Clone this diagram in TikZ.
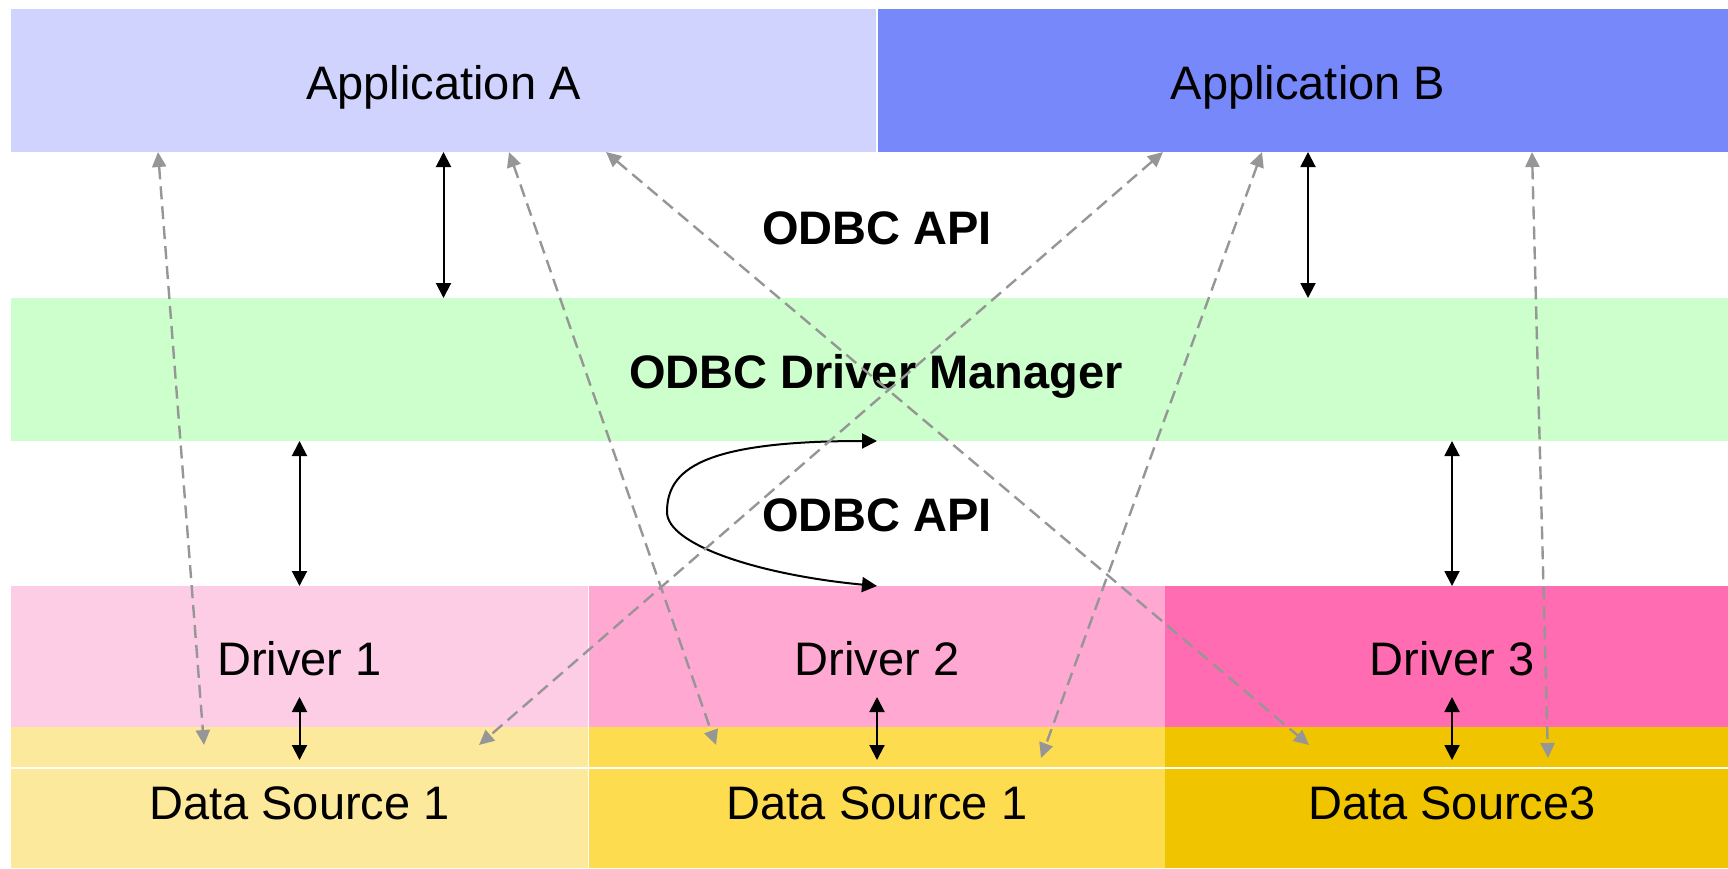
\documentclass[tikz,border=0pt]{standalone}
\usepackage{fontspec}
\setmainfont{Liberation Sans}
\usetikzlibrary{arrows.meta}
\definecolor{appAfill}{HTML}{CFD3FD}
\definecolor{appBfill}{HTML}{7789FA}
\definecolor{mgrfill}{HTML}{CCFFCC}
\definecolor{drvAfill}{HTML}{FDCDE5}
\definecolor{drvBfill}{HTML}{FFA8D2}
\definecolor{drvCfill}{HTML}{FF6CB2}
\definecolor{srcAfill}{HTML}{FDE99B}
\definecolor{srcBfill}{HTML}{FEDC50}
\definecolor{srcCfill}{HTML}{F1C400}
\definecolor{linkgray}{HTML}{969696}

\begin{document}
\begin{tikzpicture}[x=0.5pt,y=-0.5pt,
    layer/.style={rectangle, inner sep=0pt, outer sep=0pt, text height=19pt, text depth=0pt,
      font=\fontsize{23.5}{28}\selectfont},
    source/.style={layer, text height=21.6pt, minimum height=70.5pt},
    apilabel/.style={font=\fontsize{23.5}{28}\selectfont\bfseries},
    callarrow/.style={line width=1pt, {Triangle[length=7.5pt,width=7.5pt]}-{Triangle[length=7.5pt,width=7.5pt]}},
    dsarrow/.style={linkgray, line width=1.2pt, dash pattern=on 6.5pt off 3.5pt,
      {Triangle[length=7.5pt,width=7pt]}-{Triangle[length=7.5pt,width=7pt]}}]
    \useasboundingbox (0,0) rectangle (1728,868);
    % applications
    \node[layer, fill=appAfill, minimum width=432.5pt, minimum height=71.5pt] (appA) at (443.5,80.5) {Application A};
    \node[layer, fill=appBfill, minimum width=430pt, minimum height=71.5pt] (appB) at (1308,80.5) {Application B};
    % driver manager
    \node[layer, fill=mgrfill, minimum width=865pt, minimum height=71.5pt, font=\fontsize{23.5}{28}\selectfont\bfseries] (mgr) at (876,369.5) {ODBC Driver Manager};
    % drivers
    \node[layer, fill=drvAfill, minimum width=288.5pt, minimum height=70.5pt] (drv1) at (299.5,656.5) {Driver 1};
    \node[layer, fill=drvBfill, minimum width=288pt, minimum height=70.5pt] (drv2) at (877,656.5) {Driver 2};
    \node[layer, fill=drvCfill, minimum width=287pt, minimum height=70.5pt] (drv3) at (1452,656.5) {Driver 3};
    % data sources
    \node[source, fill=srcAfill, minimum width=288.5pt] (src1) at (299.5,797.5) {Data Source 1};
    \node[source, fill=srcBfill, minimum width=288pt] (src2) at (877,797.5) {Data Source 1};
    \node[source, fill=srcCfill, minimum width=287pt] (src3) at (1452,797.5) {Data Source3};
    \draw[white, line width=0.6pt] ([yshift=-20.5pt]src1.north west) -- ([yshift=-20.5pt]src3.north east);

    \node[apilabel] (api1) at (877,228) {ODBC API};
    \node[apilabel] (api2) at (877,515) {ODBC API};

    % API calls
    \draw[callarrow] (appA.south) -- (appA.south |- mgr.north);
    \draw[callarrow] (appB.south) -- (appB.south |- mgr.north);
    \draw[callarrow] (drv1.north |- mgr.south) -- (drv1.north);
    \draw[callarrow] (drv3.north |- mgr.south) -- (drv3.north);
    \foreach \d/\s in {drv1/src1, drv2/src2, drv3/src3}
      \draw[callarrow] ([yshift=15pt]\d.south) -- ([yshift=-16.5pt]\s.north);
    \coordinate (turn) at (667,512);
    \draw[callarrow] (drv2.north |- mgr.south) .. controls +(-176,0) and +(0,-42) .. (turn)
      .. controls +(0,33) and +(-117,-11) .. (drv2.north);

    % application to data source
    \draw[dsarrow] ([xshift=73.5pt]appA.south west) -- ([xshift=96.5pt,yshift=-9pt]src1.north west);
    \draw[dsarrow] ([xshift=249pt]appA.south west) -- ([xshift=63.5pt,yshift=-9pt]src2.north west);
    \draw[dsarrow] ([xshift=297.5pt]appA.south west) -- ([xshift=72pt,yshift=-9pt]src3.north west);
    \draw[dsarrow] ([xshift=142.5pt]appB.south west) -- ([xshift=234pt,yshift=-9pt]src1.north west);
    \draw[dsarrow] ([xshift=192pt]appB.south west) -- ([xshift=226pt,yshift=-15.5pt]src2.north west);
    \draw[dsarrow] ([xshift=327pt]appB.south west) -- ([xshift=191.5pt,yshift=-15.5pt]src3.north west);
\end{tikzpicture}
\end{document}
